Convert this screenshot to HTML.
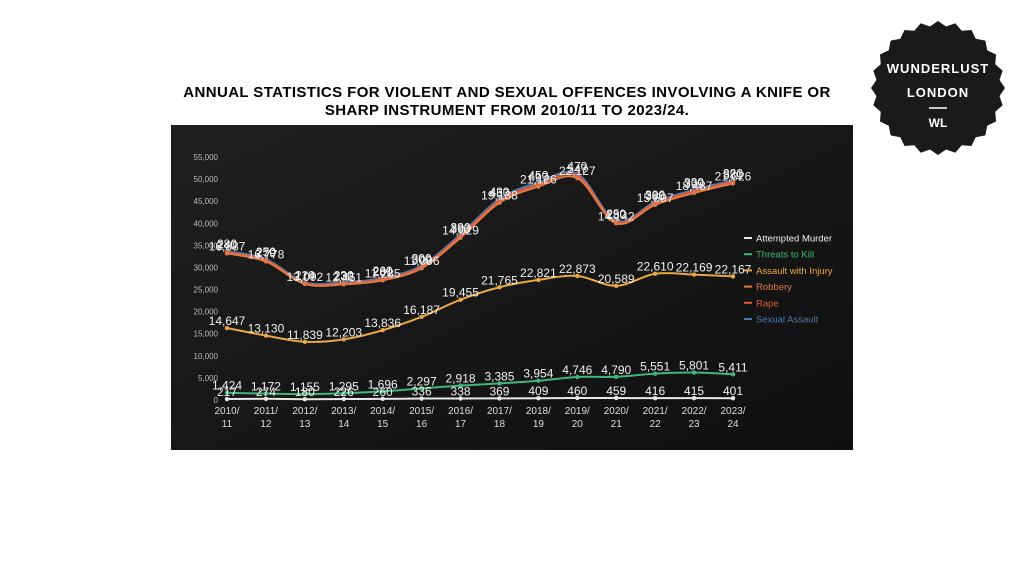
<!DOCTYPE html>
<html><head><meta charset="utf-8"><style>
html,body{margin:0;padding:0;background:#fff;width:1024px;height:576px;overflow:hidden;font-family:"Liberation Sans",sans-serif}
svg{display:block}
</style></head><body>
<svg id="root" width="1024" height="576" viewBox="0 0 1024 576">
<defs>
<linearGradient id="bg" x1="0" y1="0" x2="1" y2="1">
<stop offset="0" stop-color="#1f1f1f"/><stop offset="1" stop-color="#0f0f0f"/>
</linearGradient>
</defs>
<text x="507" y="97" text-anchor="middle" font-size="15" font-weight="bold" fill="#000" letter-spacing="0.4">ANNUAL STATISTICS FOR VIOLENT AND SEXUAL OFFENCES INVOLVING A KNIFE OR</text>
<text x="507" y="115" text-anchor="middle" font-size="15" font-weight="bold" fill="#000" letter-spacing="0.4">SHARP INSTRUMENT FROM 2010/11 TO 2023/24.</text>
<g>
<polygon id="scallop" fill="#1a1a1a"/>
<text x="938" y="73" text-anchor="middle" font-size="13" font-weight="bold" fill="#fff" letter-spacing="1">WUNDERLUST</text>
<text x="938" y="97" text-anchor="middle" font-size="13" font-weight="bold" fill="#fff" letter-spacing="1">LONDON</text>
<line x1="929" y1="108" x2="947" y2="108" stroke="#fff" stroke-width="1.5"/>
<text x="938" y="127" text-anchor="middle" font-size="12" font-weight="bold" fill="#fff">WL</text>
</g>
<rect x="171" y="125" width="682" height="325" fill="url(#bg)"/>
<g id="plot"></g>
</svg>
<script>
const categories=["2010/11","2011/12","2012/13","2013/14","2014/15","2015/16","2016/17","2017/18","2018/19","2019/20","2020/21","2021/22","2022/23","2023/24"];
const attemptedMurder=[217,274,180,226,260,336,338,369,409,460,459,416,415,401];
const threatsToKill=[1424,1172,1155,1295,1696,2297,2918,3385,3954,4746,4790,5551,5801,5411];
const assaultWithInjury=[14647,13130,11839,12203,13836,16187,19455,21765,22821,22873,20589,22610,22169,22167];
const robbery=[16887,16778,13092,12451,11285,11006,14029,19138,21126,22127,14142,15597,18487,21026];
const rape=[240,279,174,232,281,309,393,457,497,547,280,386,399,381];
const sexualAssault=[280,250,210,230,260,300,380,430,450,470,250,300,330,320];
const yTicks=[0,5000,10000,15000,20000,25000,30000,35000,40000,45000,50000,55000];
const seriesNames=["Attempted Murder","Threats to Kill","Assault with Injury","Robbery","Rape","Sexual Assault"];
const seriesColors=["#e8e8e8","#3cb878","#e8a845","#e07a45","#e05a40","#4a7aa8"];

const NS="http://www.w3.org/2000/svg";
const plot=document.getElementById('plot');
const x0=227,x1=733,yBase=400,yTop=157,yMax=55000;
const xs=i=>x0+(x1-x0)*i/(categories.length-1);
const ys=v=>yBase-(yBase-yTop)*v/yMax;
function mk(tag,attrs,parent){const e=document.createElementNS(NS,tag);for(const k in attrs)e.setAttribute(k,attrs[k]);(parent||plot).appendChild(e);return e;}

(function(){const pts=[];const n=48;for(let i=0;i<n;i++){const a=i/n*Math.PI*2;const r=i%2?62:67;pts.push((938+r*Math.cos(a)).toFixed(1)+","+(88+r*Math.sin(a)).toFixed(1));}document.getElementById('scallop').setAttribute('points',pts.join(' '));})();

yTicks.forEach(t=>{
 const e=mk('text',{x:218,y:ys(t)+3,'text-anchor':'end','font-size':8,fill:'#bbb'});
 e.textContent=t.toLocaleString('en-US');
 
 
});
categories.forEach((c,i)=>{
 const p=c.split('/');
 const a=mk('text',{x:xs(i),y:414,'text-anchor':'middle','font-size':10,fill:'#ddd'});a.textContent=p[0]+'/';
 
 
 const b=mk('text',{x:xs(i),y:427,'text-anchor':'middle','font-size':10,fill:'#ddd'});b.textContent=p[1];
 
 
});

const raw=[attemptedMurder,threatsToKill,assaultWithInjury,robbery,rape,sexualAssault];
const cum=[];let acc=categories.map(()=>0);
raw.forEach(s=>{acc=acc.map((v,i)=>v+s[i]);cum.push(acc.slice());});

function smooth(pts){let d="M"+pts[0][0]+","+pts[0][1];for(let i=0;i<pts.length-1;i++){const p0=pts[i-1]||pts[i],p1=pts[i],p2=pts[i+1],p3=pts[i+2]||p2;const c1=[p1[0]+(p2[0]-p0[0])/6,p1[1]+(p2[1]-p0[1])/6],c2=[p2[0]-(p3[0]-p1[0])/6,p2[1]-(p3[1]-p1[1])/6];d+=` C${c1[0]},${c1[1]} ${c2[0]},${c2[1]} ${p2[0]},${p2[1]}`;}return d;}

const order=[5,4,3,2,1,0];
order.forEach(si=>{
 const pts=cum[si].map((v,i)=>[xs(i),ys(v)]);
 const l=mk('path',{d:smooth(pts),fill:'none',stroke:seriesColors[si],'stroke-width':2});
 
 
 pts.forEach(p=>{const c=mk('circle',{cx:p[0],cy:p[1],r:2.2,fill:seriesColors[si]});
  
  });
});
order.forEach(si=>{
 cum[si].forEach((v,i)=>{
  const t=mk('text',{x:xs(i),y:ys(v)-3,'text-anchor':'middle','font-size':12,fill:'#f0f0f0'});
  t.textContent=raw[si][i].toLocaleString('en-US');
  
  
 });
});
seriesNames.forEach((n,i)=>{
 const y=238+i*16.2;
 const g=mk('g',{});
 
 
 mk('line',{x1:744,y1:y,x2:752,y2:y,stroke:seriesColors[i],'stroke-width':2},g);
 const t=mk('text',{x:756,y:y+3.5,'font-size':9.5,fill:i===0?'#eee':seriesColors[i]},g);t.textContent=n;
});
</script>
</body></html>
